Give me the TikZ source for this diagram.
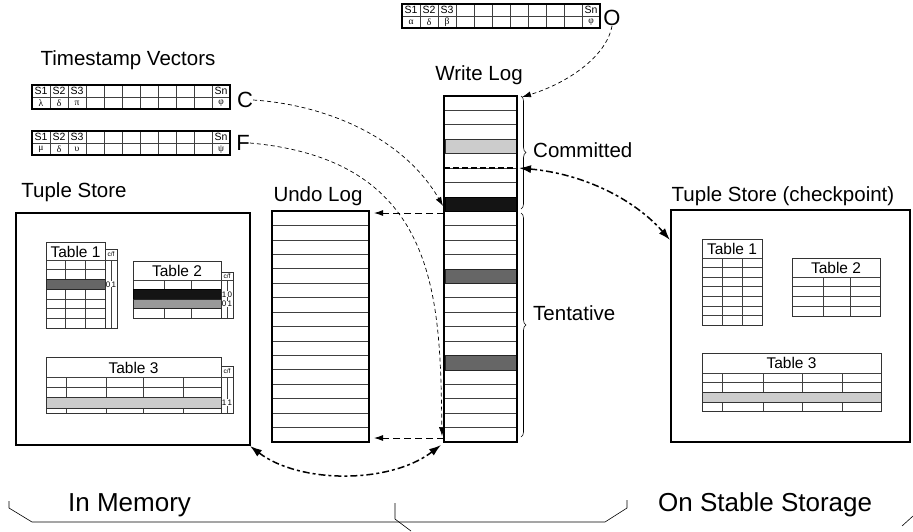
\documentclass[tikz,border=0pt]{standalone}
\usepackage{fontspec}
\setmainfont{Liberation Sans}
\newfontfamily\grkfont{Liberation Serif}
\usetikzlibrary{arrows.meta,decorations.pathreplacing}
\tikzset{
 lbl/.style={font=\fontsize{20.5}{22}\selectfont, inner sep=0pt},
 biglbl/.style={font=\fontsize{26}{28}\selectfont, inner sep=0pt},
 vlbl/.style={font=\fontsize{22}{24}\selectfont, inner sep=0pt},
 ttl/.style={font=\fontsize{15.5}{16}\selectfont, inner sep=0pt},
 stxt/.style={font=\fontsize{10.5}{11}\selectfont, inner sep=0pt},
 gtxt/.style={font=\grkfont\fontsize{9.5}{10}\selectfont, inner sep=0pt},
 cftxt/.style={font=\fontsize{6.5}{7}\selectfont, inner sep=0pt},
 dig/.style={font=\fontsize{8}{9}\selectfont, inner sep=0pt},
 frame/.style={draw=black, line width=1.3pt},
 tframe/.style={draw=black!80, line width=0.8pt},
 grid/.style={draw=black!75, line width=0.7pt},
 thindash/.style={dash pattern=on 4pt off 3pt, line width=0.7pt},
 meddash/.style={dash pattern=on 7pt off 4pt, line width=0.9pt},
 logdash/.style={dash pattern=on 6pt off 3pt, line width=1.4pt},
 thickdash/.style={dash pattern=on 7pt off 3pt on 3pt off 3pt, line width=1.5pt},
 tip/.style={-{Latex[length=9pt,width=6pt]}},
 bigtip/.style={{Latex[length=12pt,width=8pt]}-{Latex[length=12pt,width=8pt]}},
 bracestyle/.style={decorate, decoration={brace, amplitude=5pt}, line width=0.6pt},
}
\newcommand{\tsvec}[7]{%
 \begin{scope}[shift={(#2,#3)}]
  \draw[grid] (0,12) -- (198,12);
  \foreach \i in {1,...,10} \draw[grid] (\i*18,0) -- (\i*18,24);
  \draw[frame] (0,0) rectangle (198,24);
  \node[stxt] (#1sa) at (9,6) {S1};
  \node[stxt] (#1sb) at (27,6) {S2};
  \node[stxt] (#1sc) at (45,6) {S3};
  \node[stxt] (#1sn) at (189,6) {Sn};
  \node[gtxt] (#1ga) at (9,18.4) {#4};
  \node[gtxt] (#1gb) at (27,18.4) {#5};
  \node[gtxt] (#1gc) at (45,18.4) {#6};
  \node[gtxt] (#1gn) at (189,18.4) {#7};
 \end{scope}}
\begin{document}
\begin{tikzpicture}[x=1pt,y=-1pt]
\useasboundingbox (0,0) rectangle (913,531);

% ---------- timestamp vectors ----------
\node[lbl] (tsv) at (128,60) {Timestamp Vectors};
\tsvec{vO}{402}{4}{α}{δ}{β}{φ}
\tsvec{vC}{32}{85}{λ}{δ}{π}{φ}
\tsvec{vF}{32}{131}{μ}{δ}{υ}{ψ}
\node[vlbl] (O) at (612,18) {O};
\node[vlbl] (C) at (245,100) {C};
\node[vlbl] (F) at (243,143) {F};

% ---------- write log ----------
\node[lbl] (wltitle) at (479,75) {Write Log};
\node[minimum width=73pt, minimum height=346pt, inner sep=0pt] (wlog) at (480.5,269) {};
\foreach \k in {1,...,23} \draw[grid] (444,96+\k*14.4167) -- (517,96+\k*14.4167);
\filldraw[fill=black!20, draw=black!80, line width=0.8pt] (445,96+3*14.4167) rectangle (516,96+4*14.4167);
\filldraw[fill=black!92, draw=black, line width=0.8pt] (445,96+7*14.4167) rectangle (516,96+8*14.4167);
\filldraw[fill=black!60, draw=black!85, line width=0.8pt] (445,96+12*14.4167) rectangle (516,96+13*14.4167);
\filldraw[fill=black!60, draw=black!85, line width=0.8pt] (445,96+18*14.4167) rectangle (516,96+19*14.4167);
\draw[logdash] (444,96+5*14.4167) -- (517,96+5*14.4167);
\draw[logdash] (444,96+8*14.4167) -- (517,96+8*14.4167);
\draw[frame] (444,96) rectangle (517,442);

\draw[bracestyle] (521,96) -- (521,209);
\draw[bracestyle] (521,213) -- (521,437);
\node[lbl, anchor=west] (comm) at (533,150) {Committed};
\node[lbl, anchor=west] (tent) at (533,313) {Tentative};

% ---------- undo log ----------
\node[lbl] (ultitle) at (318,196) {Undo Log};
\node[minimum width=97pt, minimum height=231pt, inner sep=0pt] (ulog) at (320.5,326.5) {};
\foreach \k in {1,...,15} \draw[grid] (272,211+\k*14.4375) -- (369,211+\k*14.4375);
\draw[frame] (272,211) rectangle (369,442);

% ---------- tuple store (memory) ----------
\node[lbl] (tstitle) at (74,192) {Tuple Store};
\node[draw, line width=1.3pt, minimum width=234pt, minimum height=232pt, inner sep=0pt] (tsmem) at (133,329) {};
% Table 1
\foreach \y in {269.7,279.4,289.1,298.9,308.6,318.3} \draw[grid] (46,\y) -- (105,\y);
\foreach \x in {65,85} \draw[grid] (\x,260) -- (\x,328);
\draw[grid] (46,260) -- (105,260);
\draw[tframe] (46,242) rectangle (105,328);
\filldraw[fill=black!60, draw=black!85, line width=0.8pt] (46,279.4) rectangle (105,289.1);
\node[ttl] (lt1) at (75.5,251.5) {Table 1};
\draw[tframe] (105,249) rectangle (117,328);
\draw[grid] (105,260) -- (117,260);
\draw[grid] (111,260) -- (111,328);
\node[cftxt] (lt1cf) at (111,254.5) {c/f};
\node[dig, fill=white, inner sep=0.3pt] (lt1c) at (108.2,284.3) {0};
\node[dig, fill=white, inner sep=0.3pt] (lt1f) at (113.9,284.3) {1};
% Table 2
\foreach \y in {289.5,299,308.5} \draw[grid] (133,\y) -- (221,\y);
\foreach \x in {164,191} \draw[grid] (\x,280) -- (\x,318);
\draw[grid] (133,280) -- (221,280);
\draw[tframe] (133,261) rectangle (221,318);
\filldraw[fill=black!92, draw=black, line width=0.8pt] (133,289.5) rectangle (221,299);
\filldraw[fill=black!40, draw=black!85, line width=0.8pt] (133,299) rectangle (221,308.5);
\node[ttl] (lt2) at (177,270.5) {Table 2};
\draw[tframe] (221,272) rectangle (233,318);
\draw[grid] (221,280) -- (233,280);
\draw[grid] (227,280) -- (227,318);
\node[cftxt] (lt2cf) at (227,276) {c/f};
\node[dig, fill=white, inner sep=0.3pt] (lt2c1) at (224.2,294.3) {1};
\node[dig, fill=white, inner sep=0.3pt] (lt2f1) at (229.9,294.3) {0};
\node[dig, fill=white, inner sep=0.3pt] (lt2c2) at (224.2,303.8) {0};
\node[dig, fill=white, inner sep=0.3pt] (lt2f2) at (229.9,303.8) {1};
% Table 3
\foreach \y in {387,397,408} \draw[grid] (46,\y) -- (221,\y);
\foreach \x in {66,106,143,183} \draw[grid] (\x,377) -- (\x,413);
\draw[grid] (46,377) -- (221,377);
\draw[tframe] (46,357) rectangle (221,413);
\filldraw[fill=black!20, draw=black!80, line width=0.8pt] (46,397) rectangle (221,408);
\node[ttl] (lt3) at (133.5,367.5) {Table 3};
\draw[tframe] (221,366) rectangle (233,413);
\draw[grid] (221,377) -- (233,377);
\draw[grid] (227,377) -- (227,413);
\node[cftxt] (lt3cf) at (227,371.5) {c/f};
\node[dig, fill=white, inner sep=0.3pt] (lt3c) at (224.2,402.5) {1};
\node[dig, fill=white, inner sep=0.3pt] (lt3f) at (229.9,402.5) {1};

% ---------- tuple store (checkpoint) ----------
\node[lbl] (cptitle) at (783,196) {Tuple Store (checkpoint)};
\node[draw, line width=1.3pt, minimum width=239pt, minimum height=232pt, inner sep=0pt] (tscp) at (790.5,326) {};
% Table 1
\foreach \y in {267.6,277.1,286.7,296.3,305.9,315.4} \draw[grid] (702,\y) -- (762,\y);
\foreach \x in {722,742} \draw[grid] (\x,258) -- (\x,325);
\draw[grid] (702,258) -- (762,258);
\draw[tframe] (702,239) rectangle (762,325);
\node[ttl] (rt1) at (732,248.5) {Table 1};
% Table 2
\foreach \y in {286.75,296.5,306.25} \draw[grid] (792,\y) -- (880,\y);
\foreach \x in {823,850} \draw[grid] (\x,277) -- (\x,316);
\draw[grid] (792,277) -- (880,277);
\draw[tframe] (792,258) rectangle (880,316);
\node[ttl] (rt2) at (836,267.5) {Table 2};
% Table 3
\foreach \y in {382.5,392,402} \draw[grid] (702,\y) -- (881,\y);
\foreach \x in {722,763,802,842} \draw[grid] (\x,373) -- (\x,411);
\draw[grid] (702,373) -- (881,373);
\draw[tframe] (702,353) rectangle (881,411);
\filldraw[fill=black!20, draw=black!80, line width=0.8pt] (702,392) rectangle (881,402);
\node[ttl] (rt3) at (791.5,363) {Table 3};

% ---------- connector ends ----------
\coordinate (wlTopR) at (522,97);
\coordinate (wlBlk) at (443,206);
\coordinate (wlBot) at (442,436);
\coordinate (wlBlkL) at (444,213);
\coordinate (ulTop) at (374,213);
\coordinate (wlBotL) at (444,438);
\coordinate (ulBot) at (374,438);
\coordinate (cmDash) at (519,168);
\coordinate (cpNW) at (670,240);
\coordinate (tsSE) at (250,446);
\coordinate (wlBotC) at (441,445);

% ---------- connectors ----------
\draw[thindash, tip] (O.south) .. controls (606,58) and (565,84) .. (wlTopR);
\draw[thindash, tip] (C.east) .. controls (330,105) and (405,140) .. (wlBlk);
\draw[thindash, tip] (F.east) .. controls (440,160) and (440,300) .. (wlBot);
\draw[meddash, tip] (wlBlkL) -- (ulTop);
\draw[meddash, tip] (wlBotL) -- (ulBot);
\draw[thickdash, bigtip] (tsSE) .. controls (300,484) and (390,484) .. (wlBotC);
\draw[thickdash, bigtip] (cmDash) .. controls (585,174) and (635,200) .. (cpNW);

% ---------- bottom braces ----------
\draw[line width=0.6pt] (9,501) -- (9,508) -- (32,522) -- (605,522) -- (627,508) -- (627,500);
\draw[line width=0.6pt] (395,503) -- (395,519) -- (411,531);
\draw[line width=0.6pt] (902,526) -- (913,516);
\node[biglbl, anchor=base west] (inmem) at (68,511) {In Memory};
\node[biglbl, anchor=base west] (stable) at (658,511) {On Stable Storage};
\end{tikzpicture}
\end{document}
